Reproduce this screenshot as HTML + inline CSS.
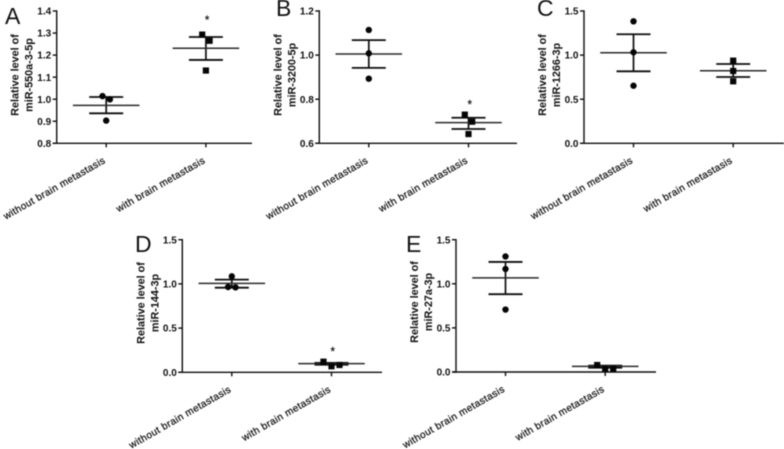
<!DOCTYPE html>
<html lang="en">
<head>
<meta charset="utf-8">
<title>Relative miRNA levels by brain metastasis status</title>
<style>
html,body{margin:0;padding:0;background:#fff;width:784px;height:449px;overflow:hidden}
svg{display:block;filter:blur(0.45px)}
text{font-family:"Liberation Sans",Arial,sans-serif;fill:#111}
</style>
</head>
<body>
<svg id="fig" width="784" height="449" viewBox="0 0 784 449" xmlns="http://www.w3.org/2000/svg"></svg>
<script>
// ---- chart data ----
const categories = ['without brain metastasis', 'with brain metastasis'];
const panelLetters = ['A', 'B', 'C', 'D', 'E'];
const mirNames = ['miR-550a-3-5p', 'miR-3200-5p', 'miR-1266-3p', 'miR-144-3p', 'miR-27a-3p'];
const yTickLabels = [
  ['0.8', '0.9', '1.0', '1.1', '1.2', '1.3', '1.4'],
  ['0.6', '0.8', '1.0', '1.2'],
  ['0.0', '0.5', '1.0', '1.5'],
  ['0.0', '0.5', '1.0', '1.5'],
  ['0.0', '0.5', '1.0', '1.5']
];
const replicatesWithout = [
  [1.014, 0.9995, 0.903],
  [1.114, 1.008, 0.893],
  [1.383, 1.032, 0.653],
  [1.085, 0.965, 0.961],
  [1.31, 1.168, 0.708]
];
const replicatesWith = [
  [1.293, 1.265, 1.13],
  [0.73, 0.698, 0.642],
  [0.937, 0.82, 0.703],
  [0.12, 0.083, 0.068],
  [0.079, 0.034, 0.034]
];
const meanWithout = [0.972, 1.005, 1.027, 1.006, 1.067];
const upperWithout = [1.01, 1.068, 1.236, 1.048, 1.248];
const lowerWithout = [0.936, 0.942, 0.816, 0.957, 0.882];
const meanWith = [1.231, 0.694, 0.823, 0.098, 0.064];
const upperWith = [1.282, 0.716, 0.899, 0.107, 0.072];
const lowerWith = [1.178, 0.665, 0.752, 0.085, 0.048];
// significance-star level per panel, in axis units (null = no star)
const starLevels = [1.367, 0.783, null, 0.252, null];

// ---- page layout (not data) ----
const frames = [
  {x0: 56.7, x1: 252, top: 11, bottom: 143.3, titleY: 75, letterX: 5, letterY: 24},
  {x0: 319.3, x1: 517, top: 11, bottom: 143.3, titleY: 75, letterX: 276, letterY: 16},
  {x0: 584, x1: 784, top: 11, bottom: 143.3, titleY: 75, letterX: 537, letterY: 16},
  {x0: 182.3, x1: 382, top: 239.7, bottom: 372.3, titleY: 303, letterX: 135, letterY: 252},
  {x0: 456, x1: 656, top: 239.7, bottom: 372, titleY: 302, letterX: 406, letterY: 252}
];

const NS = 'http://www.w3.org/2000/svg';
const fig = document.getElementById('fig');
const INK = '#0e0e0e';

function draw(tag, parent, attrs, content) {
  const node = document.createElementNS(NS, tag);
  for (const k in attrs) node.setAttribute(k, attrs[k]);
  if (content !== undefined) node.textContent = content;
  parent.appendChild(node);
  return node;
}

// Prism-style swarm: points closer than 8px vertically are spread sideways.
function swarmOffsets(vals, yScale) {
  const order = vals.map((v, i) => i).sort((a, b) => vals[b] - vals[a]);
  const off = vals.map(() => 0);
  let start = 0;
  while (start < order.length) {
    let end = start;
    while (end + 1 < order.length && yScale(vals[order[end + 1]]) - yScale(vals[order[end]]) < 8) end++;
    const n = end - start + 1;
    if (n === 2) { off[order[start]] = -3.7; off[order[end]] = 3.7; }
    if (n === 3) { off[order[start]] = -8; off[order[start + 1]] = 8; off[order[end]] = 0; }
    start = end + 1;
  }
  return off;
}

frames.forEach((f, p) => {
  const ticks = yTickLabels[p];
  const yMin = parseFloat(ticks[0]);
  const yMax = parseFloat(ticks[ticks.length - 1]);
  const yScale = v => f.bottom - (v - yMin) / (yMax - yMin) * (f.bottom - f.top);
  const xScale = c => f.x0 + 49.5 + c * 99.7;

  const g = draw('g', fig, {});
  
  

  const letter = draw('text', g, {x: f.letterX, y: f.letterY, 'font-size': 23}, panelLetters[p]);
  
  

  // y-axis title (two lines)
  const t1 = draw('text', g, {transform: `translate(${f.x0 - 38} ${f.titleY}) rotate(-90)`, 'text-anchor': 'middle', 'font-size': 10.8, 'font-weight': 'bold'}, 'Relative level of');
  
  
  const t2 = draw('text', g, {transform: `translate(${f.x0 - 24} ${f.titleY}) rotate(-90)`, 'text-anchor': 'middle', 'font-size': 10.8, 'font-weight': 'bold'}, mirNames[p]);
  
  

  // axes
  const yAxis = draw('line', g, {x1: f.x0, x2: f.x0, y1: f.top - 0.7, y2: f.bottom + 0.7, stroke: INK, 'stroke-width': 1.4});
  
  
  const xAxis = draw('line', g, {x1: f.x0 - 4, x2: f.x1, y1: f.bottom, y2: f.bottom, stroke: INK, 'stroke-width': 1.4});
  
  

  ticks.forEach(label => {
    const y = yScale(parseFloat(label));
    const tick = draw('line', g, {x1: f.x0 - 4, x2: f.x0, y1: y, y2: y, stroke: INK, 'stroke-width': 1.4});
    
    
    const txt = draw('text', g, {x: f.x0 - 5.5, y: y + 3.6, 'text-anchor': 'end', 'font-size': 10, 'font-weight': 'bold'}, label);
    
    
  });

  categories.forEach((cat, c) => {
    const cx = xScale(c);
    const tick = draw('line', g, {x1: cx, x2: cx, y1: f.bottom, y2: f.bottom + 4, stroke: INK, 'stroke-width': 1.4});
    
    
    const lab = draw('text', g, {transform: `translate(${cx} ${f.bottom + 19}) rotate(-29.8)`, 'text-anchor': 'end', 'font-size': 10, 'letter-spacing': '0.35', stroke: '#111', 'stroke-width': 0.25}, cat);
    
    

    const vals = (c === 0 ? replicatesWithout : replicatesWith)[p];
    const mean = (c === 0 ? meanWithout : meanWith)[p];
    const up = (c === 0 ? upperWithout : upperWith)[p];
    const lo = (c === 0 ? lowerWithout : lowerWith)[p];

    const stem = draw('line', g, {x1: cx, x2: cx, y1: yScale(up), y2: yScale(lo), stroke: INK, 'stroke-width': 1.7});
    
    
    [up, lo].forEach(v => {
      const cap = draw('line', g, {x1: cx - 17, x2: cx + 17, y1: yScale(v), y2: yScale(v), stroke: INK, 'stroke-width': 1.8});
      
      
    });
    const meanLine = draw('line', g, {x1: cx - 33.3, x2: cx + 33.3, y1: yScale(mean), y2: yScale(mean), stroke: '#2a2a2a', 'stroke-width': 1.5});
    
    

    const offs = swarmOffsets(vals, yScale);
    vals.forEach((v, i) => {
      let mark;
      if (c === 0) {
        mark = draw('circle', g, {cx: cx + offs[i], cy: yScale(v), r: 3.2, fill: '#050505'});
      } else {
        mark = draw('rect', g, {x: cx + offs[i] - 3.1, y: yScale(v) - 3.1, width: 6.2, height: 6.2, fill: '#050505'});
      }
      
      
    });
  });

  if (starLevels[p] !== null) {
    const star = draw('text', g, {x: xScale(1) + 1.2, y: yScale(starLevels[p]) + 5.5, 'text-anchor': 'middle', 'font-size': 11.5, fill: '#111', stroke: '#111', 'stroke-width': 0.2}, '*');
    
    
  }
});
</script>
</body>
</html>
